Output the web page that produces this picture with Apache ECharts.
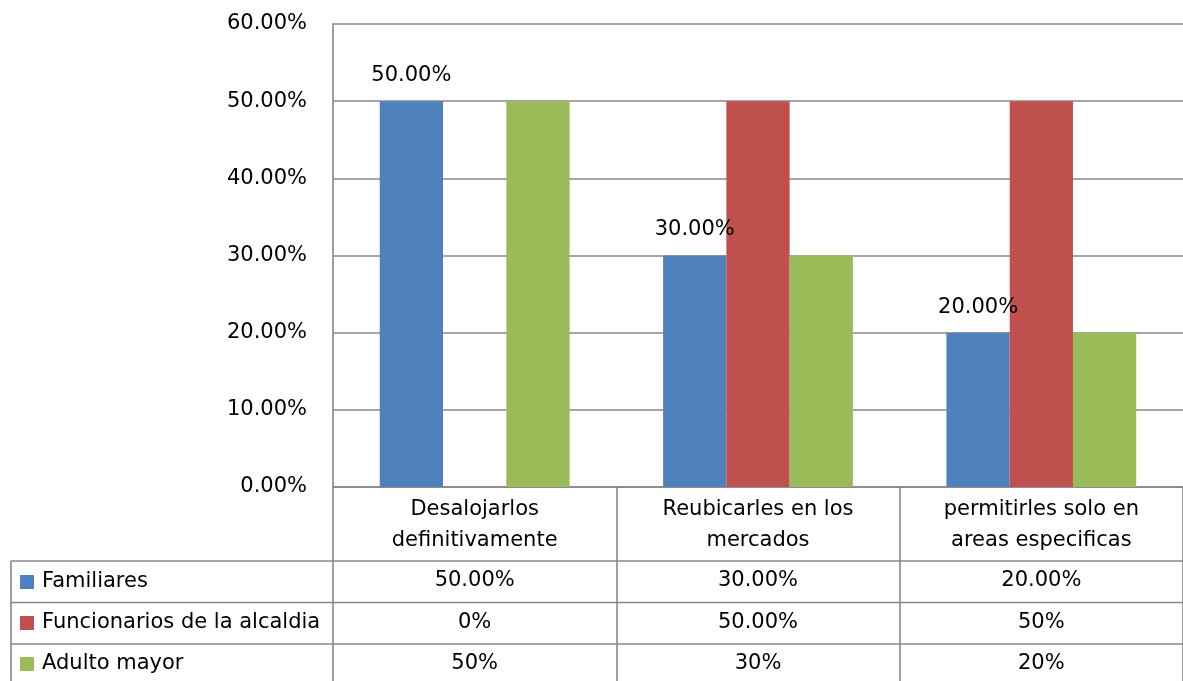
<!DOCTYPE html>
<html>
<head>
<meta charset="utf-8">
<script src="https://cdn.jsdelivr.net/npm/echarts@6/dist/echarts.min.js"></script>
<style>
  html, body { margin: 0; padding: 0; background: #fff; }
  #chart { width: 1183px; height: 681px; }
</style>
</head>
<body>
<div id="chart"></div>
<script>
// Categories and series values
const categories = ['Desalojarlos\ndefinitivamente', 'Reubicarles en los\nmercados', 'permitirles solo en\nareas especificas'];
const seriesNames = ['Familiares', 'Funcionarios de la alcaldia', 'Adulto mayor'];
const familiares = [0.50, 0.30, 0.20];
const funcionarios = [0.00, 0.50, 0.50];
const adultoMayor = [0.50, 0.30, 0.20];

// Text shown in the data table rows
const tableFamiliares = ['50.00%', '30.00%', '20.00%'];
const tableFuncionarios = ['0%', '50.00%', '50%'];
const tableAdulto = ['50%', '30%', '20%'];

// Value axis ticks
const yTicks = [0, 0.1, 0.2, 0.3, 0.4, 0.5, 0.6];

const colors = ['#4F81BD', '#C0504D', '#9BBB59'];
const FONT = 'DejaVu Sans';
const FS = 21;
const LINE = '#878787';
const LW = 1.6;

const chart = echarts.init(document.getElementById('chart'), null, { renderer: 'canvas' });

const pct2 = v => (v * 100).toFixed(2) + '%';

// Extra category axes used as the data-table rows under the plot
function tableRowAxis(rowTexts, offset) {
  return {
    type: 'category',
    gridIndex: 0,
    position: 'bottom',
    offset: offset,
    data: categories,
    axisLine: { show: false },
    axisTick: { show: false },
    splitLine: { show: false },
    axisLabel: {
      margin: 0,
      verticalAlign: 'middle',
      fontFamily: FONT,
      fontSize: FS,
      color: '#000',
      formatter: (v, i) => rowTexts[i]
    }
  };
}

const option = {
  animation: false,
  color: colors,
  grid: { left: 333, top: 24, width: 861, height: 463, containLabel: false },
  legend: {
    orient: 'vertical',
    left: 20,
    top: 571,
    padding: 0,
    height: 110,
    itemWidth: 14,
    itemHeight: 14,
    itemGap: 19,
    icon: 'rect',
    selectedMode: false,
    textStyle: { fontFamily: FONT, fontSize: FS, color: '#000', lineHeight: 22, padding: [0, 0, 0, 3] },
    data: seriesNames
  },
  xAxis: [
    {
      type: 'category',
      data: categories,
      axisLine: { show: true, lineStyle: { color: LINE, width: LW } },
      axisTick: { show: true, alignWithLabel: false, length: 194, lineStyle: { color: LINE, width: LW } },
      axisLabel: {
        margin: 7,
        fontFamily: FONT,
        fontSize: FS,
        lineHeight: 31,
        color: '#000',
        align: 'center'
      },
      splitLine: { show: false }
    },
    tableRowAxis(tableFamiliares, 94),
    tableRowAxis(tableFuncionarios, 136),
    tableRowAxis(tableAdulto, 177)
  ],
  yAxis: {
    type: 'value',
    min: yTicks[0],
    max: yTicks[yTicks.length - 1],
    interval: 0.1,
    axisLine: { show: true, lineStyle: { color: LINE, width: LW } },
    axisTick: { show: false },
    splitLine: { show: true, lineStyle: { color: LINE, width: LW } },
    axisLabel: {
      margin: 26,
      fontFamily: FONT,
      fontSize: FS,
      color: '#000',
      formatter: v => pct2(v)
    }
  },
  series: [
    {
      name: seriesNames[0],
      type: 'bar',
      data: familiares,
      barGap: '0%',
      barCategoryGap: '33%',
      label: {
        show: true,
        position: 'top',
        distance: 15,
        fontFamily: FONT,
        fontSize: FS,
        color: '#000',
        formatter: p => pct2(p.value)
      },
      z: 2
    },
    {
      name: seriesNames[1],
      type: 'bar',
      data: funcionarios,
      barGap: '0%',
      barCategoryGap: '33%'
    },
    {
      name: seriesNames[2],
      type: 'bar',
      data: adultoMayor,
      barGap: '0%',
      barCategoryGap: '33%'
    }
  ],
  graphic: [
    // data-table borders
    { type: 'line', shape: { x1: 11, y1: 561, x2: 1183, y2: 561 }, style: { stroke: LINE, lineWidth: LW }, silent: true },
    { type: 'line', shape: { x1: 11, y1: 602.5, x2: 1183, y2: 602.5 }, style: { stroke: LINE, lineWidth: LW }, silent: true },
    { type: 'line', shape: { x1: 11, y1: 644, x2: 1183, y2: 644 }, style: { stroke: LINE, lineWidth: LW }, silent: true },
    { type: 'line', shape: { x1: 11, y1: 561, x2: 11, y2: 681 }, style: { stroke: LINE, lineWidth: LW }, silent: true }
  ]
};

chart.setOption(option);
</script>
</body>
</html>
